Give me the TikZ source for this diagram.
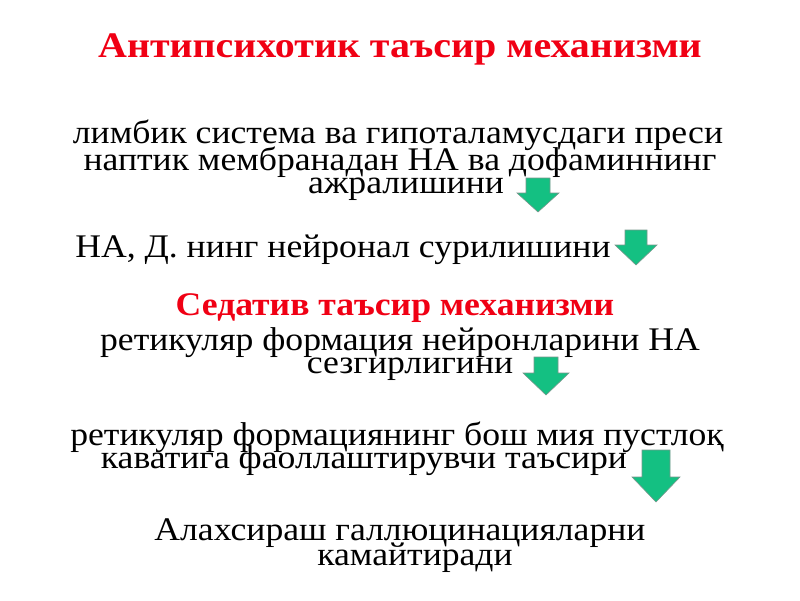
\documentclass[tikz,border=0pt]{standalone}
\usepackage{fontspec}
\setmainfont{Liberation Serif}[FakeStretch=1.08]
\newfontfamily\titlefont{Liberation Serif}[FakeStretch=1.11]
\definecolor{headred}{RGB}{240,0,20}
\definecolor{arrowfill}{RGB}{20,192,130}
\definecolor{arrowedge}{RGB}{120,150,140}
\newcommand\greenarrow[6]{% cx, top, shaft half, head y, head half, tip
  \draw[blockarrow] (#1-#3,#2) -- (#1+#3,#2) -- (#1+#3,#4) -- (#1+#5,#4) -- (#1,#6) -- (#1-#5,#4) -- (#1-#3,#4) -- cycle;}
\begin{document}
\begin{tikzpicture}[x=1pt,y=-1pt,
  body/.style={anchor=base,inner sep=0pt,font=\fontsize{33}{33}\selectfont},
  heading/.style={anchor=base,inner sep=0pt,text=headred,font=\titlefont\bfseries\fontsize{36}{36}\selectfont},
  subheading/.style={anchor=base,inner sep=0pt,text=headred,font=\bfseries\fontsize{33}{33}\selectfont},
  blockarrow/.style={fill=arrowfill,draw=arrowedge,line width=0.6pt,line join=miter}]
\useasboundingbox (0,0) rectangle (800,600);
\node[heading] (title) at (400,57) {Антипсихотик таъсир механизми};
\node[body] (l1) at (398,143) {лимбик система ва гипоталамусдаги преси};
\node[body] (l2) at (400,170) {наптик мембранадан НА ва дофаминнинг};
\node[body] (l3) at (406,193) {ажралишини};
\greenarrow{538}{178}{12}{193}{21}{212}
\node[body] (l4) at (343,257) {НА, Д. нинг нейронал сурилишини};
\greenarrow{636}{230}{11}{245}{21}{265}
\node[subheading] (sub) at (395,315) {Седатив таъсир механизми};
\node[body] (l6) at (400,350) {ретикуляр формация нейронларини НА};
\node[body] (l7) at (410,373) {сезгирлигини};
\greenarrow{546}{357}{12}{373}{23}{395}
\node[body] (l8) at (397,445) {ретикуляр формациянинг бош мия пустлоқ};
\node[body] (l9) at (364,468) {каватига фаоллаштирувчи таъсири};
\greenarrow{656}{450}{14}{477}{24}{502}
\node[body] (l10) at (400,540) {Алахсираш галлюцинацияларни};
\node[body] (l11) at (415,565) {камайтиради};
\end{tikzpicture}
\end{document}
